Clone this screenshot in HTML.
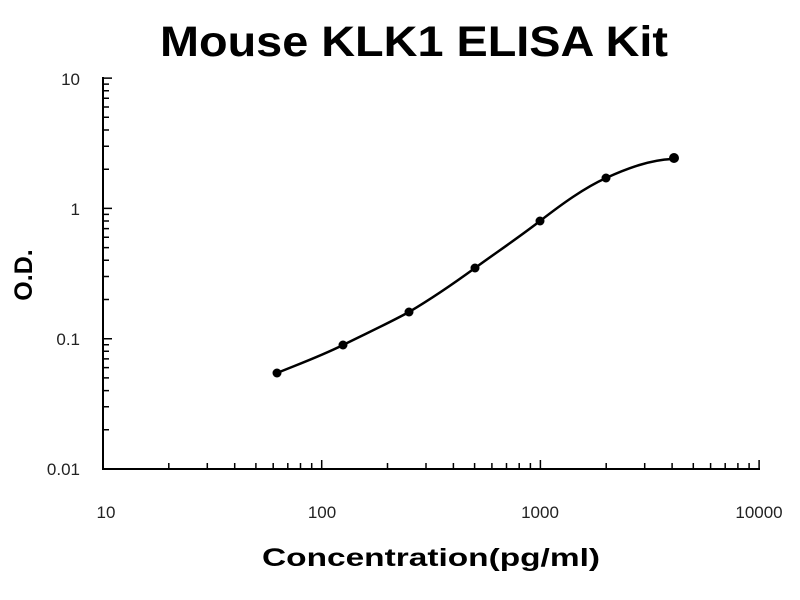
<!DOCTYPE html>
<html><head><style>body{margin:0;background:#fff}svg{display:block}</style></head><body>
<svg width="800" height="600" xmlns="http://www.w3.org/2000/svg" font-family="Liberation Sans, sans-serif">
<rect width="800" height="600" fill="#fff"/>
<text x="160" y="56" font-size="43" font-weight="bold" textLength="508" lengthAdjust="spacingAndGlyphs">Mouse KLK1 ELISA Kit</text>
<text x="262" y="566" font-size="25" font-weight="bold" textLength="338" lengthAdjust="spacingAndGlyphs">Concentration(pg/ml)</text>
<text transform="translate(32,275) rotate(-90)" font-size="25" font-weight="bold" text-anchor="middle">O.D.</text>
<g font-size="17" fill="#222">
<text x="80" y="85" text-anchor="end">10</text>
<text x="80" y="215" text-anchor="end">1</text>
<text x="80" y="345" text-anchor="end">0.1</text>
<text x="80" y="475" text-anchor="end">0.01</text>
<text x="106" y="518" text-anchor="middle">10</text>
<text x="322" y="518" text-anchor="middle">100</text>
<text x="540" y="518" text-anchor="middle">1000</text>
<text x="759" y="518" text-anchor="middle">10000</text>
</g>
<path d="M103 77 V469 H760" stroke="#000" stroke-width="2" fill="none"/>
<path stroke="#000" stroke-width="1.5" fill="none" d="
M168.8 469v-6M207.3 469v-6M234.7 469v-6M255.9 469v-6M273.2 469v-6M287.8 469v-6M300.5 469v-6M311.7 469v-6M321.7 469v-9
M387.5 469v-6M426 469v-6M453.4 469v-6M474.6 469v-6M491.9 469v-6M506.5 469v-6M519.2 469v-6M530.4 469v-6M540.4 469v-9
M606.2 469v-6M644.7 469v-6M672.1 469v-6M693.3 469v-6M710.6 469v-6M725.2 469v-6M737.9 469v-6M749.1 469v-6M759.1 469v-9
M103 429.8h6M103 406.8h6M103 390.6h6M103 377.9h6M103 367.6h6M103 358.9h6M103 351.3h6M103 344.7h6M103 338.7h9
M103 299.5h6M103 276.5h6M103 260.3h6M103 247.6h6M103 237.3h6M103 228.6h6M103 221h6M103 214.4h6M103 208.4h9
M103 169.2h6M103 146.2h6M103 130h6M103 117.3h6M103 107h6M103 98.3h6M103 90.7h6M103 84.1h6M103 78.1h9"/>
<path d="M277 373 C299 364,321 356,343 345 C365 334,387 324,409 312 C431 299,453 284,475 268 C497 252,518 238,540 221 C562 204,584 188,606 178 C628 168,650 160,672 159" stroke="#000" stroke-width="2.5" fill="none"/>
<g fill="#000">
<circle cx="277" cy="373" r="4.5"/><circle cx="343" cy="345" r="4.5"/><circle cx="409" cy="312" r="4.5"/><circle cx="475" cy="268" r="4.5"/><circle cx="540" cy="221" r="4.5"/><circle cx="606" cy="178" r="4.5"/><circle cx="674" cy="158" r="5"/>
</g>
</svg>
</body></html>
